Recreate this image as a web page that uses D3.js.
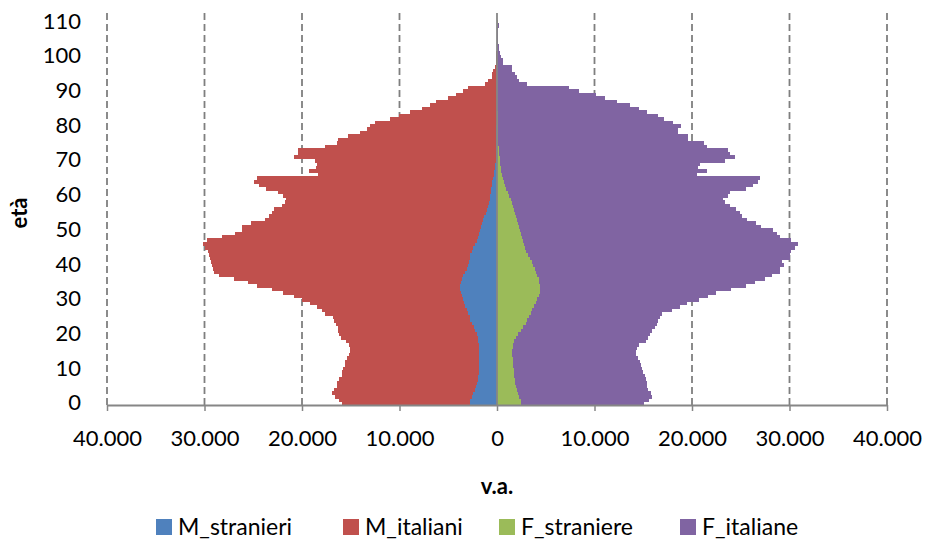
<!DOCTYPE html>
<html>
<head>
<meta charset="utf-8" />
<style>

body {
    margin: 0;
    background-color: #FFF;
}

#chart text {
    font-family: Lato, "Open Sans", sans-serif;
    fill: #000;
}

</style>
<title>piramide età</title>
</head>

<body>
<div id="chart"></div>

<script src="https://d3js.org/d3.v7.min.js"></script>
<script>

// eta 0..112
var ages = d3.range(0, 113);

var M_stranieri = [
  2800, 2750, 2600, 2500, 2300, 2200, 2100, 2000, 1900, 1850,
  1850, 1850, 1850, 1850, 1850, 1850, 1850, 1850, 1900, 2000,
  2100, 2250, 2400, 2600, 2750, 2800, 3000, 3100, 3250, 3350,
  3450, 3550, 3700, 3750, 3800, 3700, 3600, 3450, 3300, 3100,
  3000, 2900, 2800, 2750, 2600, 2450, 2250, 2100, 1950, 1850,
  1750, 1600, 1500, 1400, 1300, 1150, 1050, 950, 850, 750,
  700, 620, 580, 550, 500, 400, 350, 280, 250, 200,
  150, 150, 130, 120, 110, 100, 100, 90, 80, 70,
  60, 50, 50, 40, 40, 30, 30, 20, 20, 20,
  10, 10, 10, 0, 0, 0, 0, 0, 0, 0,
  0, 0, 0, 0, 0, 0, 0, 0, 0, 0,
  0, 0, 0
];

var M_italiani = [
  13100, 13450, 14000, 14400, 14400, 14200, 14300, 14200, 14000, 14050,
  13950, 13750, 13750, 13550, 13350, 13250, 13250, 13350, 13600, 14000,
  14100, 14050, 13900, 13900, 13950, 14000, 14600, 14900, 15250, 15850,
  16550, 17250, 18300, 19350, 20800, 21800, 23400, 25050, 25700, 26000,
  26200, 26400, 26600, 26750, 27000, 27550, 27950, 27600, 26250, 25050,
  24450, 24600, 23700, 22400, 22100, 21950, 21850, 21150, 20850, 20850,
  21300, 21880, 23120, 23850, 24400, 24200, 18050, 19000, 18350, 18300,
  18550, 20650, 20270, 20280, 17490, 16300, 16200, 15210, 14020, 13230,
  12940, 12450, 10950, 10060, 8860, 7670, 6870, 6280, 4980, 4180,
  3490, 2990, 1190, 900, 550, 500, 400, 250, 150, 100,
  80, 60, 40, 30, 20, 10, 0, 0, 0, 0,
  0, 0, 0
];

var F_straniere = [
  2500, 2450, 2300, 2200, 2050, 1950, 1850, 1800, 1750, 1720,
  1700, 1680, 1650, 1600, 1580, 1570, 1600, 1650, 1750, 1950,
  2200, 2450, 2700, 2950, 3100, 3300, 3450, 3600, 3750, 4000,
  4150, 4300, 4400, 4400, 4400, 4350, 4300, 4100, 3950, 3850,
  3700, 3550, 3400, 3150, 3000, 2870, 2800, 2700, 2600, 2500,
  2400, 2300, 2200, 2100, 1950, 1800, 1700, 1600, 1500, 1400,
  1250, 1100, 950, 850, 700, 600, 500, 450, 420, 350,
  300, 260, 240, 200, 170, 150, 140, 130, 120, 110,
  100, 90, 80, 70, 60, 50, 50, 40, 40, 30,
  30, 30, 20, 20, 20, 10, 10, 10, 0, 0,
  0, 0, 0, 0, 0, 0, 0, 0, 50, 120,
  100, 0, 0
];

var F_italiane = [
  12600, 13150, 13600, 13600, 13450, 13450, 13500, 13500, 13450, 13280,
  13200, 13120, 13050, 12900, 12720, 12730, 12800, 12950, 13550, 13550,
  13500, 13450, 13500, 13450, 13400, 13400, 13450, 14300, 15050, 15500,
  16550, 17300, 18100, 19600, 21100, 22150, 23200, 24100, 25050, 25150,
  25700, 25650, 26600, 26950, 27200, 27730, 28100, 27500, 26400, 26200,
  25900, 24800, 24400, 23500, 23150, 23100, 22800, 22300, 21900, 21800,
  22450, 22800, 24550, 25450, 26100, 26400, 20000, 21050, 20180, 20450,
  23100, 24140, 23660, 23500, 21330, 21050, 19460, 19470, 18480, 18490,
  18800, 18010, 17020, 16430, 15340, 14550, 13550, 12260, 11060, 10170,
  8370, 7370, 3080, 2280, 1980, 1840, 1490, 1490, 650, 650,
  380, 300, 240, 200, 150, 120, 100, 80, 60, 50,
  30, 20, 0
];

var seriesKeys = ["M_stranieri", "M_italiani", "F_straniere", "F_italiane"];
var seriesColors = ["#4F81BD", "#C0504D", "#9BBB59", "#8064A2"];
var xTicks = [-40000, -30000, -20000, -10000, 0, 10000, 20000, 30000, 40000];
var yTicks = [0, 10, 20, 30, 40, 50, 60, 70, 80, 90, 100, 110];

var width = 930, height = 544;
var plot = {left: 107, right: 887, top: 13, bottom: 405};

// i maschi vanno a sinistra (valori negativi)
var rows = ages.map(function(a, i) {
    return {
        age: a,
        M_stranieri: -M_stranieri[i],
        M_italiani: -M_italiani[i],
        F_straniere: F_straniere[i],
        F_italiane: F_italiane[i]
    };
});

var stacked = d3.stack()
    .keys(seriesKeys)
    .offset(d3.stackOffsetDiverging)(rows);

var x = d3.scaleLinear().domain([-40000, 40000]).range([plot.left, plot.right]);
var y = d3.scaleBand().domain(ages).range([plot.bottom, plot.top]).padding(0);
var color = d3.scaleOrdinal().domain(seriesKeys).range(seriesColors);

var it = d3.formatLocale({decimal: ",", thousands: ".", grouping: [3], currency: ["€", ""]});
var fmt = it.format(",");

var svg = d3.select("#chart").append("svg")
    .attr("width", width)
    .attr("height", height);

// griglia tratteggiata
svg.append("g")
    .selectAll("line")
    .data(xTicks.filter(function(d) { return d !== 0; }))
    .enter().append("line")
    .attr("x1", function(d) { return x(d); })
    .attr("x2", function(d) { return x(d); })
    .attr("y1", plot.top)
    .attr("y2", plot.bottom)
    .attr("stroke", "#7f7f7f")
    .attr("stroke-width", 1.8)
    .attr("stroke-dasharray", "7,4");

// barre
svg.append("g")
    .attr("shape-rendering", "crispEdges")
    .selectAll("g")
    .data(stacked)
    .enter().append("g")
    .attr("fill", function(d) { return color(d.key); })
    .selectAll("rect")
    .data(function(d) { return d; })
    .enter().append("rect")
    .attr("x", function(d) { return x(Math.min(d[0], d[1])); })
    .attr("width", function(d) { return Math.abs(x(d[1]) - x(d[0])); })
    .attr("y", function(d) { return y(d.data.age); })
    .attr("height", y.bandwidth() + 0.8);

// asse x
var xAxis = svg.append("g")
    .attr("transform", "translate(0," + plot.bottom + ")")
    .call(d3.axisBottom(x)
        .tickValues(xTicks)
        .tickSize(6)
        .tickSizeOuter(0)
        .tickPadding(19)
        .tickFormat(function(d) { return fmt(Math.abs(d)); }));
xAxis.select(".domain").attr("stroke", "#868686").attr("stroke-width", 1.8);
xAxis.selectAll(".tick line").attr("stroke", "#868686").attr("stroke-width", 1.5);
xAxis.selectAll(".tick text").attr("font-size", 22);

// asse verticale sullo zero
svg.append("line")
    .attr("x1", x(0)).attr("x2", x(0))
    .attr("y1", plot.top).attr("y2", plot.bottom)
    .attr("stroke", "#868686")
    .attr("stroke-width", 1.8);

// etichette età
var yAxis = svg.append("g")
    .attr("transform", "translate(88,0)")
    .call(d3.axisLeft(y).tickValues(yTicks).tickSize(0).tickPadding(7));
yAxis.select(".domain").remove();
yAxis.selectAll(".tick text").attr("font-size", 22);

// titoli assi
svg.append("text")
    .attr("transform", "translate(27,213) rotate(-90)")
    .attr("text-anchor", "middle")
    .attr("font-size", 22)
    .attr("font-weight", "bold")
    .text("età");

svg.append("text")
    .attr("x", x(0))
    .attr("y", 494)
    .attr("text-anchor", "middle")
    .attr("font-size", 22)
    .attr("font-weight", "bold")
    .text("v.a.");

// legenda
var legendX = [156, 343, 499, 680];
var legend = svg.append("g")
    .selectAll("g")
    .data(seriesKeys)
    .enter().append("g")
    .attr("transform", function(d, i) { return "translate(" + legendX[i] + ",519)"; });

legend.append("rect")
    .attr("width", 16)
    .attr("height", 16)
    .attr("fill", function(d) { return color(d); });

legend.append("text")
    .attr("x", 22)
    .attr("y", 8)
    .attr("dy", "0.36em")
    .attr("font-size", 23)
    .text(function(d) { return d; });

</script>
</body>
</html>
